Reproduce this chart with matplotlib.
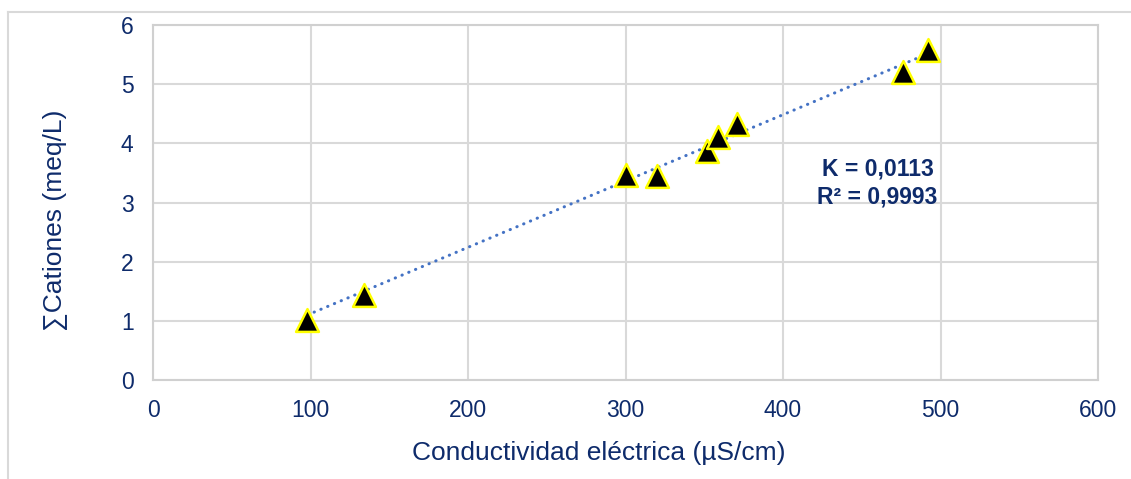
import matplotlib
matplotlib.use("Agg")
import matplotlib.pyplot as plt
import numpy as np
from matplotlib.lines import Line2D

plt.rcParams['font.family'] = ['Liberation Sans', 'DejaVu Sans']

conductividad = [98, 134, 300, 320, 352, 359, 371, 476, 492]
cationes = [1.02, 1.44, 3.46, 3.45, 3.87, 4.10, 4.33, 5.20, 5.58]
x_ticks = [0, 100, 200, 300, 400, 500, 600]
y_ticks = [0, 1, 2, 3, 4, 5, 6]
k_label = "K = 0,0113"
r2_label = "R² = 0,9993"

navy = '#0E2B6B'
x = np.array(conductividad, dtype=float)
y = np.array(cationes, dtype=float)

W, H = 1131, 479
fig = plt.figure(figsize=(W/100, H/100), dpi=100)
ax = fig.add_axes([153/W, 1-380/H, (1098-153)/W, (380-25)/H])

# trendline through origin
k = np.sum(x*y)/np.sum(x*x)
xs = np.linspace(x.min(), x.max(), 50)
ax.plot(xs, k*xs, linestyle=(0, (0.1, 2.3)), dash_capstyle='round', color='#4472C4',
        linewidth=2.2, zorder=2)

ax.scatter(x, y, marker='^', s=270, facecolor='black', edgecolor='#FFFF00', linewidth=1.8, zorder=3)

ax.set_xlim(0, 600)
ax.set_ylim(0, 6)
ax.set_xticks(x_ticks)
ax.set_yticks(y_ticks)
ax.grid(True, color='#D9D9D9', linewidth=1.5)
ax.set_axisbelow(True)
for s in ax.spines.values():
    s.set_color('#D0D0D0')
    s.set_linewidth(1.5)
ax.tick_params(length=0, labelsize=16.5, colors=navy)
ax.tick_params(axis='x', pad=14)
ax.tick_params(axis='y', pad=14)

fig.text(599/W, 1-453/H, "Conductividad eléctrica (µS/cm)", fontsize=19, color=navy,
         ha='center', va='center')
fig.text(55/W, 1-220/H, "∑Cationes (meq/L)", fontsize=19, color=navy,
         ha='center', va='center', rotation=90)

ax.text(460, 3.56, k_label, ha='center', va='center', fontsize=16.5, fontweight='bold', color=navy)
ax.text(460, 3.09, r2_label, ha='center', va='center', fontsize=16.5, fontweight='bold', color=navy)

# outer chart frame
fig.add_artist(Line2D([8/W, 1], [1-12/H, 1-12/H], color='#D9D9D9', linewidth=1.5, transform=fig.transFigure))
fig.add_artist(Line2D([8/W, 8/W], [0, 1-12/H], color='#D9D9D9', linewidth=1.5, transform=fig.transFigure))

fig.savefig("out.png", dpi=100, facecolor='white')
